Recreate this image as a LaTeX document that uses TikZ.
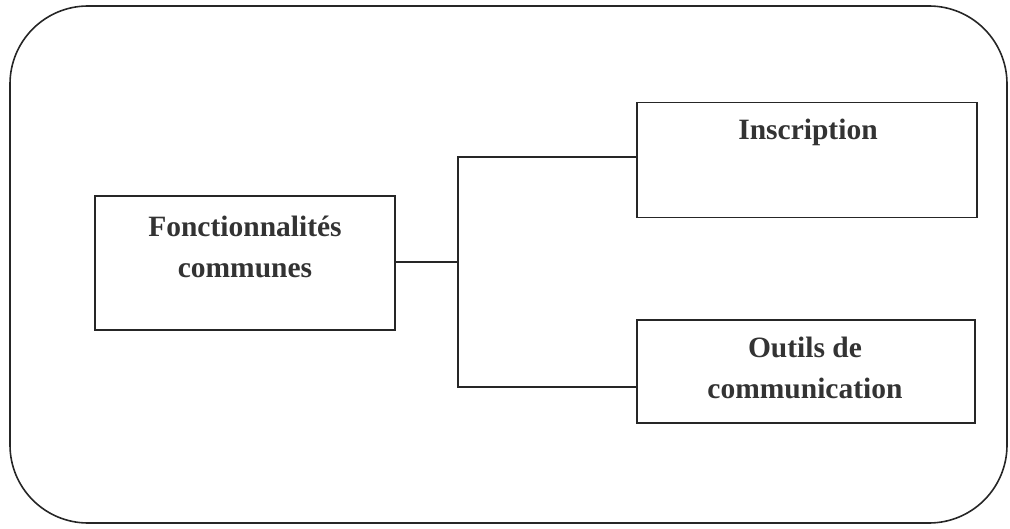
\documentclass[tikz,border=0pt]{standalone}
\usepackage{fontspec}
\setmainfont{Liberation Serif}
\begin{document}
\begin{tikzpicture}[x=1pt,y=-1pt,
  boxnode/.style={draw=black!85,line width=1.4pt,inner sep=0pt},
  lbl/.style={text=black!80,font=\bfseries\fontsize{29.5}{41}\selectfont,align=center,inner sep=0pt},
  conn/.style={draw=black!85,line width=1.3pt}]
\useasboundingbox (0,0) rectangle (1010,529);
\draw[line width=1.6pt,black!85,rounded corners=78pt] (10,6) rectangle (1007,523);
\node[boxnode,minimum width=300pt,minimum height=134pt] (fc) at (245,263) {};
\node[boxnode,minimum width=340pt,minimum height=115pt] (ins) at (807,160) {};
\node[boxnode,minimum width=338pt,minimum height=103pt] (out) at (806,371.5) {};
\node[lbl] (fct) at (245,247) {Fonctionnalités\\communes};
\node[lbl] (inst) at (808,132) {Inscription};
\node[lbl] (outt) at (805,368) {Outils de\\communication};
\coordinate (j) at (458,262);
\draw[conn] (fc.east |- j) -- (j);
\draw[conn] (ins.west |- 0,157) -| (j) |- (out.west |- 0,387);
\end{tikzpicture}
\end{document}
